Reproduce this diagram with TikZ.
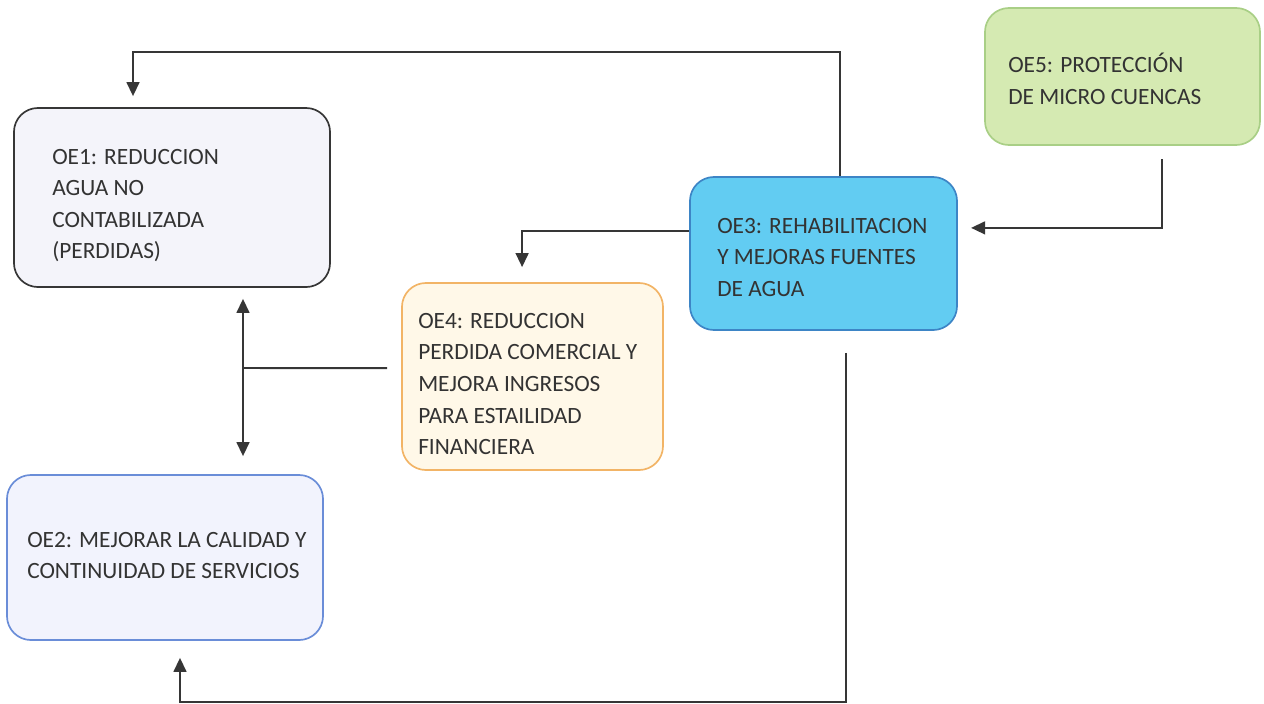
\documentclass[tikz,border=0pt]{standalone}
\usepackage{fontspec}
\setmainfont{Carlito}
\usepackage{xcolor}
\usetikzlibrary{arrows.meta, positioning}
\definecolor{linegray}{HTML}{363636}
\definecolor{textgray}{HTML}{333333}
\tikzset{%
	every box/.style={
		rectangle,
		rounded corners=0.6cm,
		line width=1.2pt
	},
	box text/.style={
		anchor=west,
		align=left,
		inner sep=0pt,
		text=textgray,
		font=\fontsize{16.6}{22.5}\selectfont
	},
	conn/.style={
		draw=linegray,
		line width=1.4pt,
		-{Triangle[length=0.35cm, width=0.32cm]}
	},
}

\begin{document}
\begin{tikzpicture}[x=0.025cm, y=-0.025cm]
			\useasboundingbox (0,0) rectangle (1264,704);
			
			% Boxes of the five objectives
			\node[every box, draw=linegray, fill={rgb,255:red,244;green,244;blue,250}, minimum width=7.9cm, minimum height=4.475cm] (oe1) at (172,197.5) {};
			\node[every box, draw={rgb,255:red,106;green,141;blue,216}, fill={rgb,255:red,242;green,243;blue,253}, minimum width=7.9cm, minimum height=4.125cm] (oe2) at (165,557.5) {};
			\node[every box, draw={rgb,255:red,61;green,133;blue,198}, fill={rgb,255:red,98;green,204;blue,242}, minimum width=6.675cm, minimum height=3.825cm] (oe3) at (823.5,253.5) {};
			\node[every box, draw={rgb,255:red,242;green,180;blue,102}, fill={rgb,255:red,255;green,248;blue,232}, minimum width=6.525cm, minimum height=4.675cm] (oe4) at (532.5,376.5) {};
			\node[every box, draw={rgb,255:red,169;green,207;blue,134}, fill={rgb,255:red,213;green,234;blue,178}, minimum width=6.875cm, minimum height=3.425cm] (oe5) at (1122.5,76.5) {};
			
			% Texts inside the boxes
			\node[box text] (oe1txt) at (52,205.5) {OE1: REDUCCION\\AGUA NO\\CONTABILIZADA\\(PERDIDAS)};
			\node[box text] (oe2txt) at (27,555.5) {OE2: MEJORAR LA CALIDAD Y\\CONTINUIDAD DE SERVICIOS};
			\node[box text] (oe3txt) at (717,257.5) {OE3: REHABILITACION\\Y MEJORAS FUENTES\\DE AGUA};
			\node[box text] (oe4txt) at (418,384) {OE4: REDUCCION\\PERDIDA COMERCIAL Y\\MEJORA INGRESOS\\PARA ESTAILIDAD\\FINANCIERA};
			\node[box text] (oe5txt) at (1008,79) {OE5: PROTECCIÓN\\DE MICRO CUENCAS};
			
			% Bends and split point of the connectors
			\coordinate (topbend) at (133,52);
			\coordinate (botbend) at (180,702);
			\coordinate (split) at (243,368);
			
			% OE3 to OE1 over the top
			\draw[conn, shorten >=0.275cm] ([xshift=0.41cm]oe3.north) |- (topbend) -- (oe1.north -| topbend);
			% OE5 to OE3
			\draw[conn, shorten <=0.33cm, shorten >=0.33cm] ([xshift=0.99cm]oe5.south) |- ([yshift=0.64cm]oe3.east);
			% OE3 to OE4
			\draw[conn, shorten >=0.375cm] ([yshift=0.56cm]oe3.west) -| ([xshift=-0.26cm]oe4.north);
			% OE4 to OE1 and OE2
			\draw[conn, -, shorten <=0.35cm] ([yshift=0.21cm]oe4.west) -- (split);
			\draw[conn, {Triangle[length=0.35cm, width=0.32cm]}-{Triangle[length=0.35cm, width=0.32cm]}, shorten <=0.275cm, shorten >=0.45cm] (oe1.south -| split) -- (oe2.north -| split);
			% OE3 to OE2 under the bottom
			\draw[conn, shorten <=0.55cm, shorten >=0.425cm] ([xshift=0.56cm]oe3.south) |- (botbend) -- (oe2.south -| botbend);
		\end{tikzpicture}
\end{document}
